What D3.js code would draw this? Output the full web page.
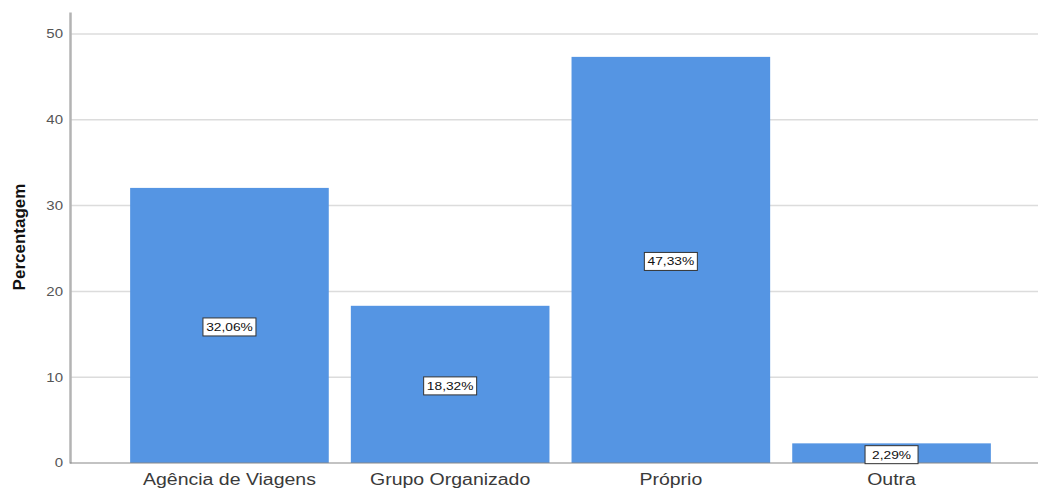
<!DOCTYPE html>
<html lang="pt">
<head>
<meta charset="UTF-8">
<title>Percentagem</title>
<script src="https://d3js.org/d3.v7.min.js"></script>
<style>
  body { margin: 0; background: #fff; }
  text { font-family: "Liberation Sans", Arial, sans-serif; }
</style>
</head>
<body>
<script>
// data
var categories = ["Agência de Viagens", "Grupo Organizado", "Próprio", "Outra"];
var values = [32.06, 18.32, 47.33, 2.29];
var yTicks = [0, 10, 20, 30, 40, 50];

var w = 1038, h = 488;
var sx = 1.25; // picture is stretched sideways

var svg = d3.select("body").append("svg")
    .attr("width", w)
    .attr("height", h);

var x = d3.scaleBand()
    .domain(categories)
    .range([70, 1051])
    .paddingInner(0.1)
    .paddingOuter(0.2725);

var y = d3.scaleLinear()
    .domain([0, 52.56])
    .range([463, 12]);

// grid lines
svg.selectAll("line.grid")
    .data(yTicks.filter(function(d){ return d > 0; }))
    .enter()
    .append("line")
    .attr("class", "grid")
    .attr("x1", 70).attr("x2", w)
    .attr("y1", function(d){ return y(d); })
    .attr("y2", function(d){ return y(d); })
    .attr("stroke", "#dcdcdc")
    .attr("stroke-width", 1.5);

// bars
svg.selectAll("rect.bar")
    .data(values)
    .enter()
    .append("rect")
    .attr("class", "bar")
    .attr("x", function(d, i){ return x(categories[i]); })
    .attr("y", function(d){ return y(d); })
    .attr("width", x.bandwidth())
    .attr("height", function(d){ return y(0) - y(d); })
    .attr("fill", "#5595e3");

// y axis
var yAxis = svg.append("g")
    .attr("transform", "translate(70,0)")
    .call(d3.axisLeft(y).tickValues(yTicks).tickSize(0).tickPadding(0));
yAxis.select(".domain")
    .attr("stroke", "#b3b3b3")
    .attr("stroke-width", 2.5);
yAxis.selectAll("text")
    .attr("x", -7 / sx)
    .attr("transform", "scale(" + sx + ",1)")
    .attr("fill", "#555")
    .style("font-size", "12px")
    .style("font-family", "'Liberation Sans', Arial, sans-serif");

// baseline
svg.append("line")
    .attr("x1", 70).attr("x2", w)
    .attr("y1", y(0)).attr("y2", y(0))
    .attr("stroke", "#888")
    .attr("stroke-width", 1.2);

// x labels
svg.selectAll("text.xlab")
    .data(categories)
    .enter()
    .append("text")
    .attr("class", "xlab")
    .attr("transform", function(d){
        return "translate(" + (x(d) + x.bandwidth() / 2) + ",485) scale(" + sx + ",1)";
    })
    .attr("text-anchor", "middle")
    .attr("fill", "#3a3a3a")
    .style("font-size", "15.6px")
    .text(function(d){ return d; });

// value labels
var lab = svg.selectAll("g.vlab")
    .data(values)
    .enter()
    .append("g")
    .attr("class", "vlab")
    .attr("transform", function(d, i){
        return "translate(" + (x(categories[i]) + x.bandwidth() / 2) + "," + ((y(0) + y(d)) / 2 + 1.5) + ")";
    });
lab.append("rect")
    .attr("x", -26.5).attr("y", -9)
    .attr("width", 53).attr("height", 18)
    .attr("fill", "#fff")
    .attr("stroke", "#333")
    .attr("stroke-width", 1);
lab.append("text")
    .attr("transform", "scale(" + sx + ",1)")
    .attr("text-anchor", "middle")
    .attr("dy", "0.36em")
    .attr("fill", "#111")
    .style("font-size", "11px")
    .text(function(d){ return d.toFixed(2).replace(".", ",") + "%"; });

// y title
svg.append("text")
    .attr("transform", "translate(25," + 237 + ") rotate(-90)")
    .attr("text-anchor", "middle")
    .attr("fill", "#111")
    .style("font-size", "17px")
    .style("font-weight", "bold")
    .text("Percentagem");
</script>
</body>
</html>
